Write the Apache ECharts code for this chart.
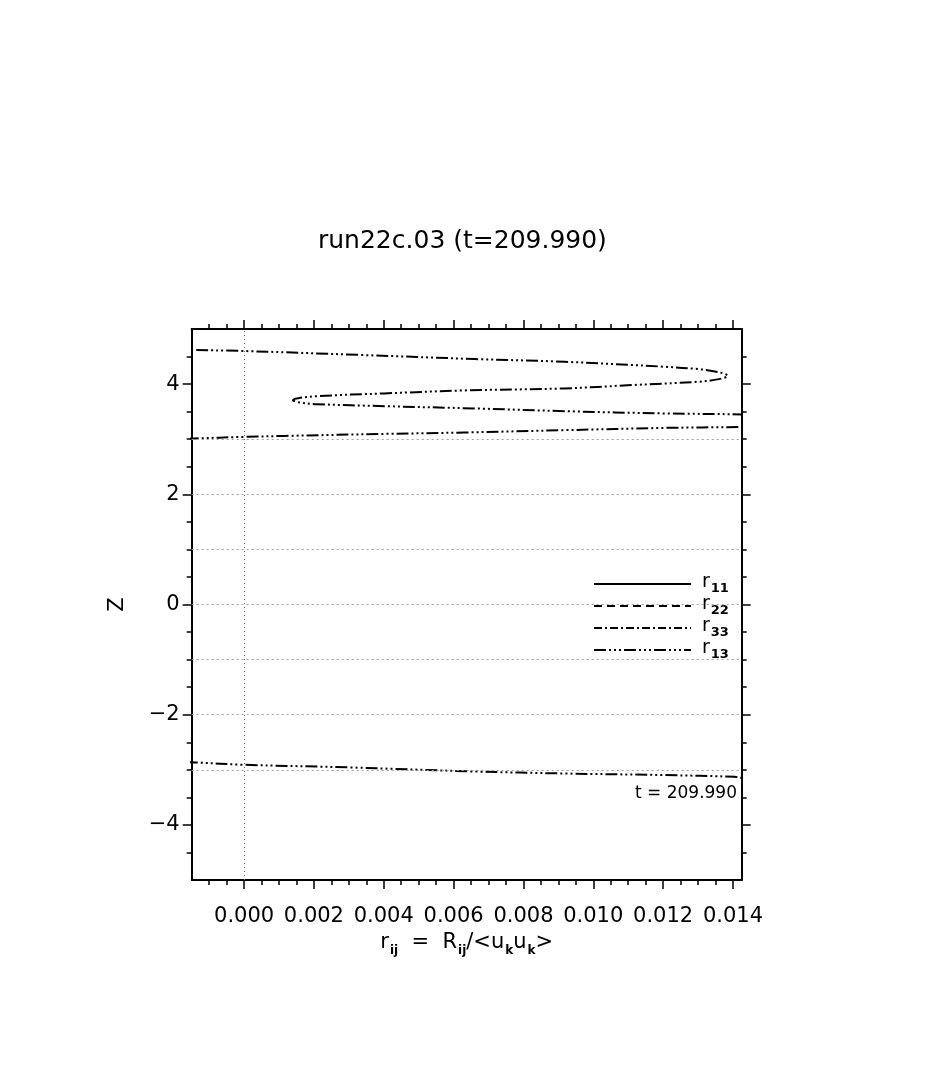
<!DOCTYPE html>
<html>
<head>
<meta charset="utf-8">
<script src="https://cdn.jsdelivr.net/npm/echarts@6/dist/echarts.min.js"></script>
<style>html,body{margin:0;padding:0;background:#fff;}#c{width:935px;height:1065px;}</style>
</head>
<body>
<div id="c"></div>
<script>
// ---- data ----
const titleText = 'run22c.03 (t=209.990)';
const timeText = 't = 209.990';
const seriesNames = ['r11', 'r22', 'r33', 'r13'];
// r11, r22, r33 fall entirely outside the plotted window (nothing visible)
const r11 = [];
const r22 = [];
const r33 = [];
// r13 : [value, Z]  (points beyond the axis limits are clipped)
const r13 = [
  [-0.00137, 4.618], [0.00001, 4.600], [0.00330, 4.530], [0.00660, 4.455], [0.00918, 4.405],
  [0.01204, 4.315], [0.01299, 4.273], [0.01360, 4.215], [0.01385, 4.151], [0.01360, 4.090],
  [0.01299, 4.042], [0.01109, 3.982], [0.00918, 3.922], [0.00631, 3.885], [0.00402, 3.831],
  [0.00210, 3.782], [0.00155, 3.745], [0.00140, 3.709], [0.00155, 3.672], [0.00210, 3.636],
  [0.00402, 3.600], [0.00660, 3.558], [0.00918, 3.509], [0.01204, 3.467], [0.01424, 3.449],
  [0.01650, 3.400], [0.01750, 3.335], [0.01650, 3.265], [0.01424, 3.224], [0.01204, 3.205],
  [0.00918, 3.164], [0.00631, 3.122], [0.00402, 3.096], [0.00116, 3.060], [0.00001, 3.042],
  [-0.00142, 3.013], [-0.00400, 2.950], [-0.00800, 2.500], [-0.01000, 0.000], [-0.00800, -2.500],
  [-0.00400, -2.800], [-0.00142, -2.867], [0.00001, -2.909], [0.00307, -2.958], [0.00660, -3.031],
  [0.00918, -3.067], [0.01204, -3.096], [0.01405, -3.127], [0.01424, -3.145], [0.01700, -3.200]
];
const xMin = -0.0015, xMax = 0.01425;
const yMin = -5, yMax = 5;
const xMajor = [0, 0.002, 0.004, 0.006, 0.008, 0.010, 0.012, 0.014];
const xMinor = [-0.001, -0.0005, 0.0005, 0.001, 0.0015, 0.0025, 0.003, 0.0035, 0.0045, 0.005, 0.0055,
  0.0065, 0.007, 0.0075, 0.0085, 0.009, 0.0095, 0.0105, 0.011, 0.0115, 0.0125, 0.013, 0.0135];
const yMajor = [-4, -2, 0, 2, 4];
const yMinor = [-4.5, -3.5, -3, -2.5, -1.5, -1, -0.5, 0.5, 1, 1.5, 2.5, 3, 3.5, 4.5];
const gridZ = [-3, -2, -1, 0, 1, 2, 3];
const gridX = [0];

// ---- styles ----
const FONT = 'DejaVu Sans';
const dashes = {
  r11: 'solid',
  r22: [8, 5],
  r33: [8, 3, 2, 3],
  r13: [12, 3, 2, 3, 2, 3, 2, 3]
};
const lineCol = '#000';

function xAxisDef(pos, values, len, showLine, showLabel) {
  return {
    type: 'value', position: pos, min: xMin, max: xMax,
    axisLine: { show: showLine, onZero: false, lineStyle: { color: lineCol, width: 2 } },
    axisTick: { show: true, customValues: values, length: len, inside: false, lineStyle: { color: lineCol, width: 1.5 } },
    axisLabel: showLabel ? {
      show: true, customValues: values, margin: 26, color: '#000', fontFamily: FONT, fontSize: 21,
      formatter: v => Number(v).toFixed(3)
    } : { show: false },
    splitLine: { show: false }
  };
}
function yAxisDef(pos, values, len, showLine, showLabel) {
  return {
    type: 'value', position: pos, min: yMin, max: yMax,
    axisLine: { show: showLine, onZero: false, lineStyle: { color: lineCol, width: 2 } },
    axisTick: { show: true, customValues: values, length: len, inside: false, lineStyle: { color: lineCol, width: 1.5 } },
    axisLabel: showLabel ? {
      show: true, customValues: values, margin: 12, color: '#000', fontFamily: FONT, fontSize: 21,
      formatter: v => (v < 0 ? '\u2212' + Math.abs(v) : String(v))
    } : { show: false },
    splitLine: { show: false }
  };
}

const xAxes = [
  xAxisDef('bottom', xMajor, 9, true, true),
  xAxisDef('bottom', xMinor, 5, false, false),
  xAxisDef('top', xMajor, 9, true, false),
  xAxisDef('top', xMinor, 5, false, false)
];
xAxes[0].name = '{r|r}{s|ij}{r|  =  R}{s|ij}{r|/<u}{s|k}{r|u}{s|k}{r|>}';
xAxes[0].nameLocation = 'middle';
xAxes[0].nameGap = 51;
xAxes[0].nameTextStyle = {
  color: '#000', fontFamily: FONT,
  rich: {
    r: { fontSize: 21, fontFamily: FONT, color: '#000', lineHeight: 25, verticalAlign: 'top' },
    s: { fontSize: 12, fontFamily: FONT, fontWeight: 'bold', color: '#000', lineHeight: 7, verticalAlign: 'bottom', padding: [0, 0, 0, 1] }
  }
};
const yAxes = [
  yAxisDef('left', yMajor, 9, true, true),
  yAxisDef('left', yMinor, 5, false, false),
  yAxisDef('right', yMajor, 9, true, false),
  yAxisDef('right', yMinor, 5, false, false)
];
yAxes[0].name = 'Z';
yAxes[0].nameLocation = 'middle';
yAxes[0].nameGap = 64;
yAxes[0].nameTextStyle = { color: '#000', fontFamily: FONT, fontSize: 21 };

const dataMap = { r11: r11, r22: r22, r33: r33, r13: r13 };
const series = seriesNames.map(n => ({
  name: n, type: 'line', xAxisIndex: 0, yAxisIndex: 0,
  data: dataMap[n], symbol: 'none', showSymbol: false, smooth: 0.35,
  clip: true, animation: false,
  itemStyle: { color: '#000' },
  lineStyle: { color: '#000', width: 2, type: dashes[n] }
}));
series.push({
  name: 'grid', type: 'line', xAxisIndex: 0, yAxisIndex: 0, data: [], silent: true, animation: false,
  markLine: {
    silent: true, symbol: ['none', 'none'], animation: false,
    label: { show: false },
    lineStyle: { type: [2, 3], color: '#a0a0a0', width: 1 },
    emphasis: { disabled: true },
    data: gridZ.map(z => ({ yAxis: z })).concat(gridX.map(x => ({ xAxis: x, lineStyle: { color: '#666', type: [1, 3], width: 1 } })))
  }
});

const chart = echarts.init(document.getElementById('c'), null, { renderer: 'canvas' });
chart.setOption({
  backgroundColor: '#fff',
  animation: false,
  title: [
    { text: titleText, left: 313, top: 224, textStyle: { color: '#000', fontFamily: FONT, fontSize: 25, fontWeight: 'normal' } },
    { text: timeText, right: 198, top: 785, padding: 0, textStyle: { color: '#000', fontFamily: FONT, fontSize: 17, fontWeight: 'normal' } }
  ],
  grid: { left: 191.7, right: 193.3, top: 329, bottom: 185, containLabel: false },
  xAxis: xAxes,
  yAxis: yAxes,
  legend: {
    data: seriesNames, orient: 'vertical', left: 593, top: 573, padding: 0,
    itemWidth: 97, itemHeight: 14, itemGap: 0, selectedMode: false,
    itemStyle: { opacity: 0 },
    formatter: n => '{r|r}{s|' + n.slice(1) + '}',
    textStyle: {
      color: '#000', fontFamily: FONT,
      rich: {
        r: { fontSize: 19, fontFamily: FONT, color: '#000', lineHeight: 22, verticalAlign: 'top', padding: [0, 0, 0, 6] },
        s: { fontSize: 13, fontFamily: FONT, fontWeight: 'bold', color: '#000', lineHeight: 7, verticalAlign: 'bottom', padding: [0, 0, 0, 1] }
      }
    }
  },
  series: series
});
</script>
</body>
</html>
